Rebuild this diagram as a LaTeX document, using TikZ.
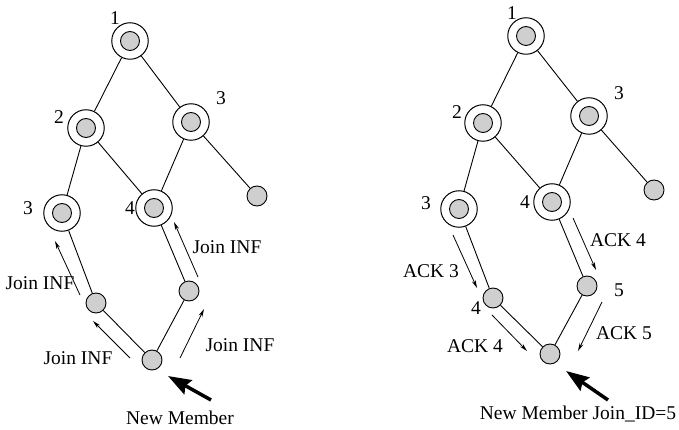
\documentclass[tikz,border=0pt]{standalone}
\usepackage{fontspec}
\setmainfont{Liberation Serif}
\usetikzlibrary{arrows.meta}
\begin{document}
\begin{tikzpicture}[x=1pt,y=-1pt,
  member/.style={circle,draw,line width=1pt,minimum size=36.5pt,inner sep=0pt,
    path picture={\filldraw[fill=gray!38,line width=0.9pt] (path picture bounding box.center) circle (9.5pt);}},
  leaf/.style={circle,draw,fill=gray!38,line width=0.9pt,minimum size=20pt,inner sep=0pt},
  edge/.style={line width=0.9pt},
  msg/.style={line width=0.8pt,-{Stealth[length=8pt,width=4pt]}},
  heavy/.style={line width=3.5pt,-{Stealth[length=23pt,width=16pt,inset=3pt]}},
  lab/.style={font=\fontsize{19.5}{22}\selectfont,inner sep=0pt}]
\useasboundingbox (0,0) rectangle (679,430);
% ---------- left tree ----------
\node[member] (L1) at (130,41) {};
\node[member] (L2) at (86,128) {};
\node[member] (L3r) at (191,122) {};
\node[leaf] (Lleaf) at (257,196) {};
\node[member] (L3) at (62,213) {};
\node[member] (L4) at (154,208) {};
\node[leaf] (Lm1) at (96,303) {};
\node[leaf] (Lm2) at (189,291) {};
\node[leaf] (Lb) at (152,360) {};
\draw[edge] (L1) -- (L2);
\draw[edge] (L1) -- (L3r);
\draw[edge] (L2) -- (L3);
\draw[edge] (L2) -- (L4);
\draw[edge] (L3r) -- (L4);
\draw[edge] (L3r) -- (Lleaf);
\draw[edge] (L3) -- (Lm1);
\draw[edge] (L4) -- (Lm2);
\draw[edge] (Lm1) -- (Lb);
\draw[edge] (Lm2) -- (Lb);
\node[lab] (tl1) at (115,18) {1};
\node[lab] (tl2) at (59,117) {2};
\node[lab] (tl3r) at (221,98) {3};
\node[lab] (tl3) at (28,208) {3};
\node[lab] (tl4) at (130,208) {4};
\coordinate (a1s) at (80,295); \coordinate (a1e) at (55,241);
\coordinate (a2s) at (130,358); \coordinate (a2e) at (93,321);
\coordinate (a3s) at (180,358); \coordinate (a3e) at (204,309);
\coordinate (a4s) at (198,277); \coordinate (a4e) at (174,222);
\draw[msg] (a1s) -- (a1e);
\draw[msg] (a2s) -- (a2e);
\draw[msg] (a3s) -- (a3e);
\draw[msg] (a4s) -- (a4e);
\node[lab] (j1) at (40,283) {Join INF};
\node[lab] (j2) at (227,247) {Join INF};
\node[lab] (j3) at (78,358) {Join INF};
\node[lab] (j4) at (240,345) {Join INF};
\coordinate (hls) at (211,400); \coordinate (hle) at (168,376);
\draw[heavy] (hls) -- (hle);
\node[lab] (nm1) at (180,418) {New Member};
% ---------- right tree ----------
\node[member] (R1) at (526,36) {};
\node[member] (R2) at (483,123) {};
\node[member] (R3r) at (589,116) {};
\node[leaf] (Rleaf) at (654,190) {};
\node[member] (R3) at (459,209) {};
\node[member] (R4) at (552,202) {};
\node[leaf] (Rm1) at (493,298) {};
\node[leaf] (Rm2) at (587,286) {};
\node[leaf] (Rb) at (550,354) {};
\draw[edge] (R1) -- (R2);
\draw[edge] (R1) -- (R3r);
\draw[edge] (R2) -- (R3);
\draw[edge] (R2) -- (R4);
\draw[edge] (R3r) -- (R4);
\draw[edge] (R3r) -- (Rleaf);
\draw[edge] (R3) -- (Rm1);
\draw[edge] (R4) -- (Rm2);
\draw[edge] (Rm1) -- (Rb);
\draw[edge] (Rm2) -- (Rb);
\node[lab] (tr1) at (512,13) {1};
\node[lab] (tr2) at (457,112) {2};
\node[lab] (tr3r) at (619,93) {3};
\node[lab] (tr3) at (426,203) {3};
\node[lab] (tr4) at (525,202) {4};
\node[lab] (tr4b) at (476,308) {4};
\node[lab] (tr5) at (619,290) {5};
\coordinate (b1s) at (453,235); \coordinate (b1e) at (477,288);
\coordinate (b2s) at (492,315); \coordinate (b2e) at (527,351);
\coordinate (b3s) at (573,218); \coordinate (b3e) at (596,270);
\coordinate (b4s) at (602,302); \coordinate (b4e) at (578,351);
\draw[msg] (b1s) -- (b1e);
\draw[msg] (b2s) -- (b2e);
\draw[msg] (b3s) -- (b3e);
\draw[msg] (b4s) -- (b4e);
\node[lab] (k1) at (431,271) {ACK 3};
\node[lab] (k2) at (618,240) {ACK 4};
\node[lab] (k3) at (475,346) {ACK 4};
\node[lab] (k4) at (624,333) {ACK 5};
\coordinate (hrs) at (608,400); \coordinate (hre) at (566,371);
\draw[heavy] (hrs) -- (hre);
\node[lab] (nm2) at (578,414) {New Member Join\_ID=5};
\end{tikzpicture}
\end{document}
